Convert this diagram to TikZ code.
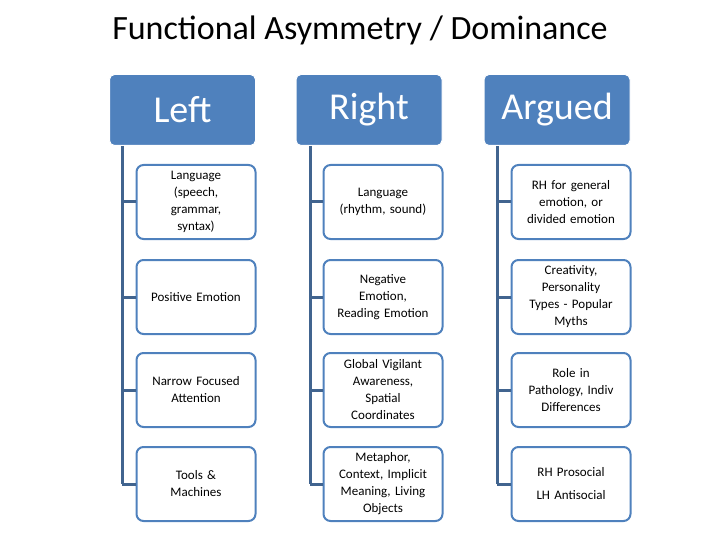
\documentclass[tikz,border=0pt]{standalone}
\usepackage{fontspec}
\setmainfont{Carlito}
\definecolor{hb}{HTML}{4F81BD}
\definecolor{ln}{HTML}{41648F}
\begin{document}
\begin{tikzpicture}[x=1pt,y=-1pt,
 head/.style={draw=white,line width=1pt,fill=hb,rounded corners=5pt,minimum width=146pt,minimum height=71pt,text=white,font=\fontsize{38}{40}\selectfont},
 kid/.style={draw=hb,line width=2pt,fill=white,rounded corners=7pt,minimum width=119pt,minimum height=74pt,text width=110pt,align=center,font=\fontsize{13}{17}\selectfont},
 con/.style={draw=ln,line width=3pt}]
\useasboundingbox (0,0) rectangle (720,540);
\node (title) at (360,30) {\fontsize{34}{36}\selectfont Functional Asymmetry / Dominance};
\node[head] (L) at (182.5,110) {Left};
\node[head] (R) at (369,110) {Right};
\node[head] (A) at (557,110) {Argued};
\foreach \n/\x/\vx in {L/196/122, R/383/310, A/571/497}{
  \coordinate (\n top) at (\vx,146);
  \foreach \i/\y in {1/202,2/297,3/390,4/484}{
    \coordinate (\n j\i) at (\vx,\y);
  }
  \draw[con] (\n top) -- (\n j4);
}
\foreach \n/\x/\vx/\t/\u/\v/\w in {
 L/196/122/{Language\\(speech,\\grammar,\\syntax)}/{Positive Emotion}/{Narrow Focused\\Attention}/{Tools \&\\Machines},
 R/383/310/{Language\\(rhythm, sound)}/{Negative\\Emotion,\\Reading Emotion}/{Global Vigilant\\Awareness,\\Spatial\\Coordinates}/{Metaphor,\\Context, Implicit\\Meaning, Living\\Objects},
 A/571/497/{RH for general\\emotion, or\\divided emotion}/{Creativity,\\Personality\\Types - Popular\\Myths}/{Role in\\Pathology, Indiv\\Differences}/{RH Prosocial\\[6pt]LH Antisocial}}{
  \node[kid] (\n1) at (\x,202) {\t};
  \node[kid] (\n2) at (\x,297) {\u};
  \node[kid] (\n3) at (\x,390) {\v};
  \node[kid] (\n4) at (\x,484) {\w};
  \foreach \i in {1,2,3,4}{\draw[con] (\n j\i) -- (\n\i.west);}
}
\end{tikzpicture}
\end{document}
